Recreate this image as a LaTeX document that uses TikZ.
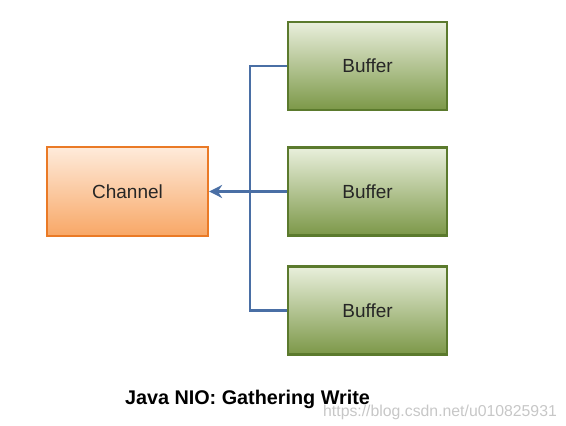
\documentclass[tikz,border=0pt]{standalone}
\usepackage{fontspec}
\setmainfont{Liberation Sans}
\usetikzlibrary{arrows.meta}
\definecolor{chtop}{HTML}{FEEBDB}
\definecolor{chbot}{HTML}{F8A766}
\definecolor{chborder}{HTML}{EA7A26}
\definecolor{bftop}{HTML}{E9EFDC}
\definecolor{bfbot}{HTML}{7C9848}
\definecolor{bfborder}{HTML}{5B7A2D}
\definecolor{wire}{HTML}{4A6FA5}
\tikzset{
  chbox/.style={draw=chborder, line width=2.2pt, top color=chtop, bottom color=chbot,
    minimum width=161pt, minimum height=89pt, font=\fontsize{19}{22}\selectfont, text=black!85},
  bfbox/.style={draw=bfborder, line width=2.2pt, top color=bftop, bottom color=bfbot,
    minimum width=159pt, minimum height=88pt, font=\fontsize{19}{22}\selectfont, text=black!85},
  wireline/.style={draw=wire, line width=2.2pt},
  wirearrow/.style={draw=wire, line width=3.2pt, -{Stealth[length=13pt,width=13pt]}}
}
\begin{document}
\begin{tikzpicture}[x=1pt,y=-1pt]
\useasboundingbox (0,0) rectangle (566,426);
\node[chbox] (ch) at (127.5,191.5) {Channel};
\node[bfbox] (b1) at (367.5,66) {Buffer};
\node[bfbox] (b2) at (367.5,191.5) {Buffer};
\node[bfbox] (b3) at (367.5,310.5) {Buffer};
\coordinate (jt) at (250,66);
\coordinate (jb) at (250,310.5);
\draw[wireline] (b1.west) -- (jt) -- (jb) -- (b3.west);
\draw[wirearrow] (b2.west) -- (ch.east);
\node[font=\fontsize{19.8}{23}\selectfont\bfseries, anchor=base] (title) at (247.5,404) {Java NIO: Gathering Write};
\node[font=\fontsize{15.8}{18}\selectfont, text=black!22, anchor=base west, inner sep=0pt] (wm) at (323,416) {https://blog.csdn.net/u010825931};
\end{tikzpicture}
\end{document}
